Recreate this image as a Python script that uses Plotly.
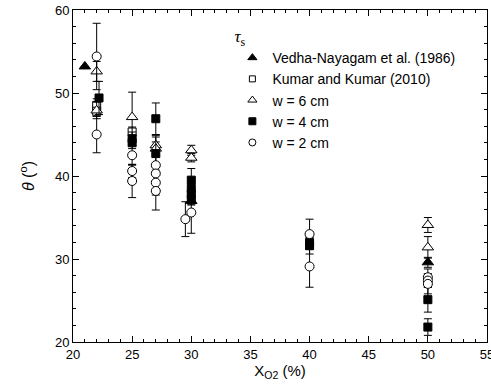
import plotly.graph_objects as go

# Vedha-Nayagam et al. (1986)
vedha_x = [21, 30, 50]
vedha_y = [53.2, 37.0, 29.6]
vedha_e = [0, 0.5, 0.6]

# Kumar and Kumar (2010)
kumar_x = [22, 22, 25]
kumar_y = [48.5, 47.8, 45.3]
kumar_e = [0.8, 0.6, 0.6]

# w = 6 cm
w6_x = [22, 22, 25, 27, 27, 30, 30, 50, 50]
w6_y = [52.6, 47.9, 47.1, 43.7, 43.3, 43.1, 42.2, 34.1, 31.4]
w6_e = [1.2, 1.0, 3.0, 1.0, 0.8, 0.6, 0.5, 0.9, 1.3]

# w = 4 cm
w4_x = [22.2, 25, 25, 27, 27, 30, 30, 30, 30, 40, 40, 50, 50]
w4_y = [49.4, 44.5, 44.0, 46.9, 42.7, 39.5, 38.5, 37.8, 37.2, 32.0, 31.6, 25.1, 21.8]
w4_e = [2.0, 0.8, 0.7, 1.9, 2.2, 1.4, 0.9, 0.7, 0.6, 0.8, 1.0, 1.5, 1.0]

# w = 2 cm
w2_x = [22, 22, 25, 25, 25, 27, 27, 27, 27, 29.5, 30, 40, 40, 50, 50, 50]
w2_y = [54.4, 45.0, 42.5, 40.6, 39.4, 41.3, 40.3, 39.2, 38.2, 34.8, 35.6, 33.0, 29.1, 27.8, 27.4, 27.0]
w2_e = [4.0, 2.2, 1.2, 0.8, 2.0, 1.2, 1.0, 1.5, 2.3, 2.1, 2.5, 1.8, 2.5, 1.0, 0.8, 1.2]

series = [
    ("Vedha-Nayagam et al. (1986)", vedha_x, vedha_y, vedha_e, "triangle-up", "black", 10, 8),
    ("Kumar and Kumar (2010)", kumar_x, kumar_y, kumar_e, "square", "white", 8, 6),
    ("w = 6 cm", w6_x, w6_y, w6_e, "triangle-up", "white", 10, 8),
    ("w = 4 cm", w4_x, w4_y, w4_e, "square", "black", 8, 7),
    ("w = 2 cm", w2_x, w2_y, w2_e, "circle", "white", 9, 7),
]

fig = go.Figure()
for name, xs, ys, es, sym, fill, sz, lsz in series:
    fig.add_trace(go.Scatter(
        x=xs, y=ys, mode="markers", name=name, showlegend=False,
        marker=dict(symbol=sym, color=fill, size=sz, line=dict(color="black", width=1)),
        error_y=dict(type="data", array=es, visible=True, color="black", thickness=1, width=4),
    ))
for name, xs, ys, es, sym, fill, sz, lsz in series:
    fig.add_trace(go.Scatter(
        x=[None], y=[None], mode="markers", name=name, showlegend=True,
        marker=dict(symbol=sym, color=fill, size=lsz, line=dict(color="black", width=1)),
    ))

font_fam = "Liberation Sans, Arial"
axis_common = dict(
    showline=True, linecolor="black", linewidth=1, automargin=False,
    ticks="inside", ticklen=6, tickcolor="black", showgrid=False, zeroline=False,
    tickfont=dict(family=font_fam, size=13, color="black"),
)
fig.update_layout(
    xaxis=dict(range=[20, 55], dtick=5, tick0=20, ticklabeloverflow="allow",
               minor=dict(dtick=1, ticks="inside", ticklen=3, tickcolor="black"),
               title=dict(text="X<sub>O2</sub> (%)", font=dict(family=font_fam, size=15, color="black"), standoff=4),
               **axis_common),
    yaxis=dict(range=[20, 60], dtick=10, tick0=20,
               minor=dict(dtick=2, ticks="inside", ticklen=3, tickcolor="black"),
               title=dict(text="<i>θ</i> (<sup>o</sup>)", font=dict(family=font_fam, size=16, color="black"), standoff=16),
               **axis_common),
    xaxis2=dict(range=[20, 55], dtick=5, tick0=20, overlaying="x", side="top", showticklabels=False,
                minor=dict(dtick=1, ticks="inside", ticklen=3, tickcolor="black"),
                **axis_common),
    yaxis2=dict(range=[20, 60], dtick=10, tick0=20, overlaying="y", side="right", showticklabels=False,
                minor=dict(dtick=2, ticks="inside", ticklen=3, tickcolor="black"),
                **axis_common),
)
# invisible trace to activate mirror axes
fig.add_trace(go.Scatter(x=[None], y=[None], xaxis="x2", yaxis="y2", showlegend=False, hoverinfo="skip"))

fig.update_layout(
    width=491, height=389,
    margin=dict(l=73, r=4, t=10, b=47),
    plot_bgcolor="white", paper_bgcolor="white",
    showlegend=True,
    legend=dict(
        title=dict(text="<i>τ</i><sub>s</sub>", font=dict(family="Liberation Serif", size=17, color="black")),
        x=0.385, y=0.97, xanchor="left", yanchor="top",
        bgcolor="rgba(0,0,0,0)", borderwidth=0,
        font=dict(family=font_fam, size=14, color="black"),
        itemwidth=30, tracegroupgap=0,
    ),
)

fig.write_html("out.html")
